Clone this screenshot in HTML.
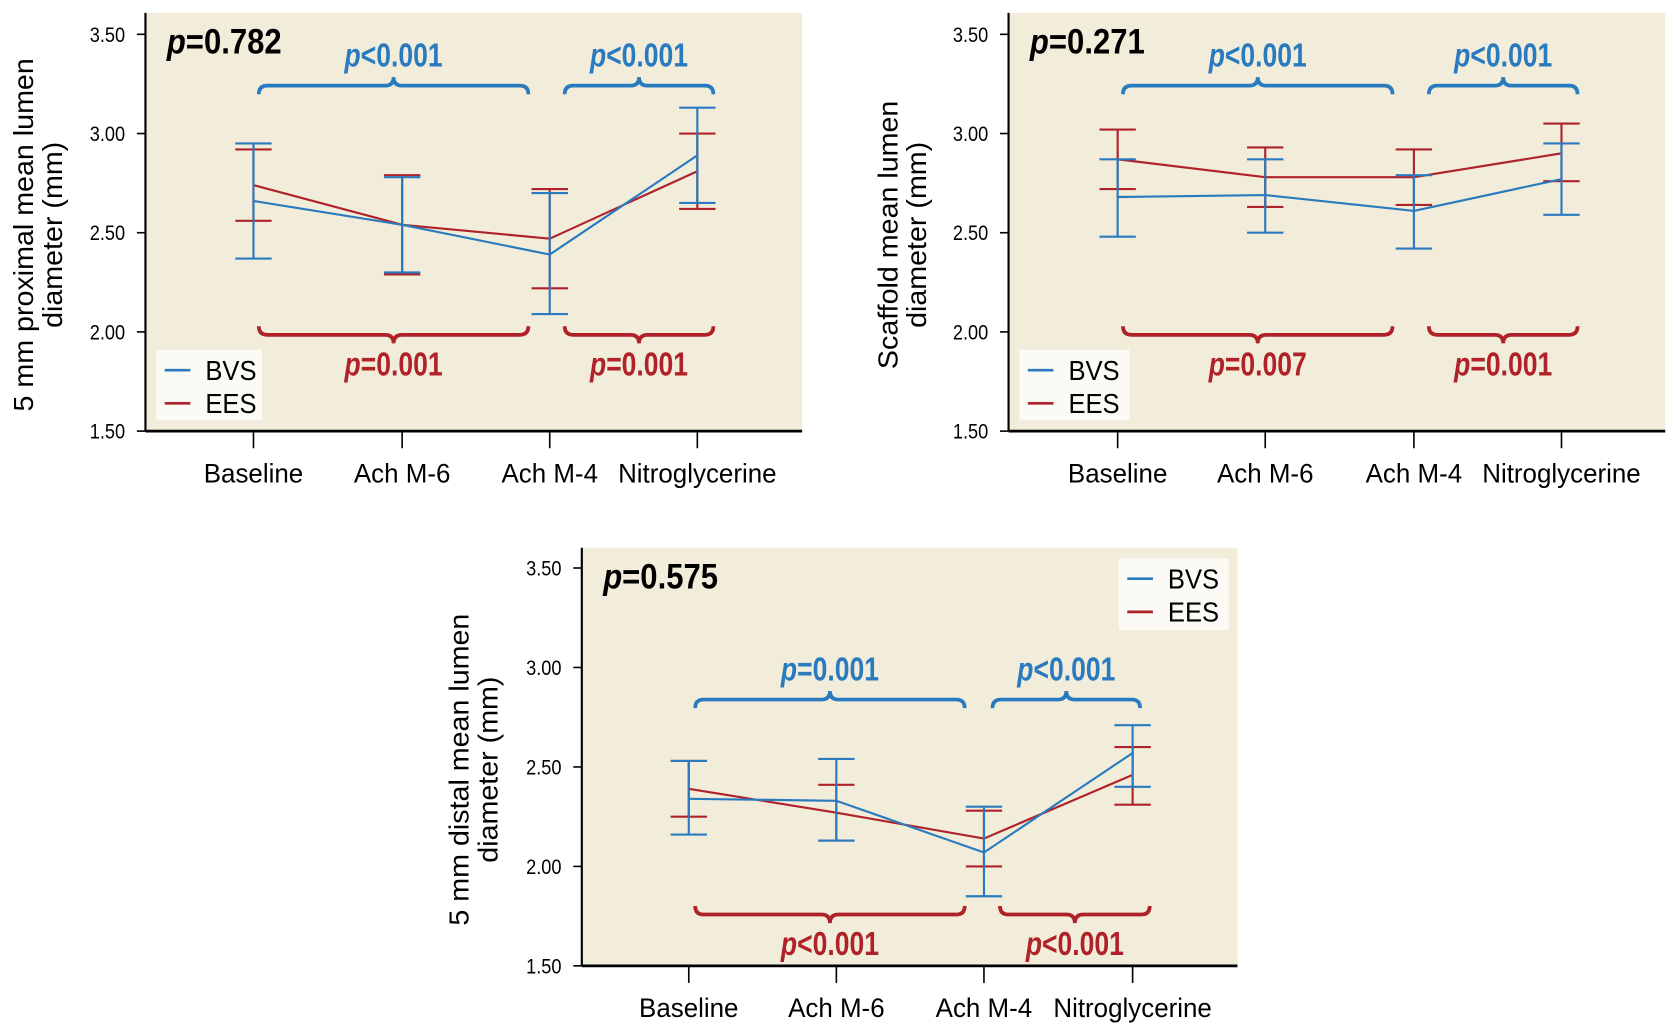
<!DOCTYPE html>
<html><head><meta charset="utf-8"><style>
body{margin:0;background:#fff}
svg{display:block}
.n{font-family:"Liberation Sans Narrow","Liberation Sans",sans-serif}
</style></head><body>
<svg id="s" width="1677" height="1028" viewBox="0 0 1568 961" xmlns="http://www.w3.org/2000/svg"></svg>
<script>
const B="#2a7abf",R="#b0222a";
const svg=document.getElementById('s');let h='';
function sx(x,k){return `transform="translate(${x},0) scale(${k},1) translate(${-x},0)"`;}
function panel(o){
 const {ax,right,top,y350,y150,cats,bvs,ees,title,pm,braces,legend}=o;
 const ys=v=>y150+(y350-y150)*(v-1.5)/2;
 h+=`<rect x="${ax}" y="${top}" width="${right-ax}" height="${y150-top}" fill="#f2edda"/>`;
 h+=`<line x1="${ax}" y1="${top}" x2="${ax}" y2="${y150}" stroke="#000" stroke-width="2"/>`;
 h+=`<line x1="${ax}" y1="${y150}" x2="${right}" y2="${y150}" stroke="#000" stroke-width="2.5"/>`;
 [3.5,3,2.5,2,1.5].forEach(v=>{const y=ys(v);h+=`<line x1="${ax-8}" y1="${y}" x2="${ax}" y2="${y}" stroke="#000" stroke-width="1.5"/><text class="n" x="${ax-19}" y="${y+7}" font-size="20" text-anchor="end" ${sx(ax-19,0.85)}>${v.toFixed(2)}</text>`;});
 const labs=["Baseline","Ach M-6","Ach M-4","Nitroglycerine"];
 cats.forEach((x,i)=>{h+=`<line x1="${x}" y1="${y150}" x2="${x}" y2="${y150+16}" stroke="#000" stroke-width="1.5"/><text class="n" x="${x}" y="${y150+48}" font-size="25" text-anchor="middle" ${sx(x,0.97)}>${labs[i]}</text>`;});
 [[ees,R],[bvs,B]].forEach(([d,c])=>{
  d.forEach((p,i)=>{const x=cats[i];h+=`<line x1="${x}" y1="${ys(p[1])}" x2="${x}" y2="${ys(p[2])}" stroke="${c}" stroke-width="2"/>`;
   [p[1],p[2]].forEach(v=>h+=`<line x1="${x-17}" y1="${ys(v)}" x2="${x+17}" y2="${ys(v)}" stroke="${c}" stroke-width="2"/>`);});
  h+=`<polyline fill="none" stroke="${c}" stroke-width="2" points="${d.map((p,i)=>cats[i]+','+ys(p[0])).join(' ')}"/>`;
 });
 h+=`<text class="n" x="${ax+20}" y="${top+38}" font-size="33" font-weight="bold" ${sx(ax+20,0.88)}><tspan font-style="italic">p</tspan>=${pm}</text>`;
 braces.forEach(b=>{const [x1,x2,y,up,c,lab,ly]=b;const m=(x1+x2)/2,d=up?1:-1,e=8;
  h+=`<path d="M${x1} ${y+e*d} Q${x1} ${y} ${x1+e} ${y} L${m-e} ${y} Q${m} ${y} ${m} ${y-e*d} Q${m} ${y} ${m+e} ${y} L${x2-e} ${y} Q${x2} ${y} ${x2} ${y+e*d}" fill="none" stroke="${c}" stroke-width="3.5"/>`;
  h+=`<text class="n" x="${m}" y="${ly}" font-size="31" font-weight="bold" fill="${c}" text-anchor="middle" ${sx(m,0.8)}><tspan font-style="italic">p</tspan>${lab}</text>`;});
 const [lx,ly,lw,lh]=legend;
 h+=`<rect x="${lx}" y="${ly}" width="${lw}" height="${lh}" fill="#fbfaf5"/>`;
 h+=`<line x1="${lx+8}" y1="${ly+19}" x2="${lx+32}" y2="${ly+19}" stroke="${B}" stroke-width="2.5"/><text class="n" x="${lx+46}" y="${ly+28}" font-size="26" ${sx(lx+46,0.92)}>BVS</text>`;
 h+=`<line x1="${lx+8}" y1="${ly+50}" x2="${lx+32}" y2="${ly+50}" stroke="${R}" stroke-width="2.5"/><text class="n" x="${lx+46}" y="${ly+59}" font-size="26" ${sx(lx+46,0.92)}>EES</text>`;
 const tx=title[2],cy=(top+y150)/2+12;
 h+=`<text x="${tx}" y="${cy}" font-family="Liberation Sans,sans-serif" font-size="26" text-anchor="middle" transform="rotate(-90 ${tx} ${cy}) translate(${tx},0) scale(1.03,1) translate(${-tx},0)"><tspan x="${tx}" dy="0">${title[0]}</tspan><tspan x="${tx}" dy="27">${title[1]}</tspan></text>`;
}
panel({ax:136,right:750,top:12,y350:32,y150:403,cats:[237,376,514,652],
 bvs:[[2.66,2.37,2.95],[2.54,2.30,2.78],[2.39,2.09,2.70],[2.89,2.65,3.13]],
 ees:[[2.74,2.56,2.92],[2.54,2.29,2.79],[2.47,2.22,2.72],[2.81,2.62,3.00]],
 title:["5 mm proximal mean lumen","diameter (mm)",31],pm:"0.782",
 braces:[[242,494,80,1,B,"&lt;0.001",62],[528,667,80,1,B,"&lt;0.001",62],[242,494,313,0,R,"=0.001",351],[528,667,313,0,R,"=0.001",351]],
 legend:[146,327,99,66]});
panel({ax:943,right:1557,top:12,y350:32,y150:403,cats:[1045,1183,1322,1460],
 bvs:[[2.68,2.48,2.87],[2.69,2.50,2.87],[2.61,2.42,2.79],[2.77,2.59,2.95]],
 ees:[[2.87,2.72,3.02],[2.78,2.63,2.93],[2.78,2.64,2.92],[2.90,2.76,3.05]],
 title:["Scaffold mean lumen","diameter (mm)",839],pm:"0.271",
 braces:[[1050,1302,80,1,B,"&lt;0.001",62],[1336,1475,80,1,B,"&lt;0.001",62],[1050,1302,313,0,R,"=0.007",351],[1336,1475,313,0,R,"=0.001",351]],
 legend:[953,327,103,66]});
panel({ax:544,right:1157,top:512,y350:531,y150:903,cats:[644,782,920,1059],
 bvs:[[2.34,2.16,2.53],[2.33,2.13,2.54],[2.07,1.85,2.30],[2.57,2.40,2.71]],
 ees:[[2.39,2.25,2.53],[2.27,2.13,2.41],[2.14,2.00,2.28],[2.46,2.31,2.60]],
 title:["5 mm distal mean lumen","diameter (mm)",438],pm:"0.575",
 braces:[[650,902,654,1,B,"=0.001",636],[928,1066,654,1,B,"&lt;0.001",636],[650,902,855,0,R,"&lt;0.001",893],[935,1075,855,0,R,"&lt;0.001",893]],
 legend:[1046,522,103,67]});
svg.innerHTML=h;
</script>
</body></html>
